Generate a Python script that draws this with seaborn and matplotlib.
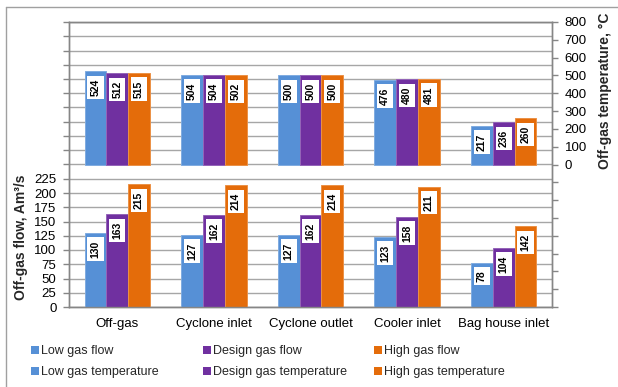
import matplotlib
matplotlib.use("Agg")
import matplotlib.pyplot as plt
import matplotlib.colors as mcolors
from matplotlib.patches import Patch
from matplotlib.lines import Line2D
from matplotlib.ticker import FuncFormatter, MultipleLocator, FixedLocator
import seaborn as sns
import pandas as pd

# ---- data ----
locations = ["Off-gas", "Cyclone inlet", "Cyclone outlet", "Cooler inlet", "Bag house inlet"]
cases = ["Low", "Design", "High"]
flow_low = [130, 127, 127, 123, 78]
flow_design = [163, 162, 162, 158, 104]
flow_high = [215, 214, 214, 211, 142]
temp_low = [524, 504, 500, 476, 217]
temp_design = [512, 504, 500, 480, 236]
temp_high = [515, 502, 500, 481, 260]

flow_df = pd.DataFrame({
    "location": locations * 3,
    "case": [c for c in cases for _ in locations],
    "value": flow_low + flow_design + flow_high,
})
temp_df = pd.DataFrame({
    "location": locations * 3,
    "case": [c for c in cases for _ in locations],
    "value": temp_low + temp_design + temp_high,
})

colors = ["#5690D6", "#7030A0", "#E46C0A"]
grid_c = "#A6A6A6"
spine_c = "#868686"

sns.set_style("white")
plt.rcParams["font.family"] = ["Liberation Sans", "DejaVu Sans"]

W, H = 618, 387
fig = plt.figure(figsize=(W / 100, H / 100), dpi=100)
ax = fig.add_axes([69 / W, 1 - 307 / H, (552 - 69) / W, (307 - 22) / H])
ax2 = ax.twinx()

sns.barplot(data=flow_df, x="location", y="value", hue="case", hue_order=cases,
            palette=colors, width=0.675, gap=0, ax=ax, legend=False,
            saturation=1, zorder=3)
sns.barplot(data=temp_df, x="location", y="value", hue="case", hue_order=cases,
            palette=colors, width=0.675, gap=0, ax=ax2, legend=False,
            saturation=1, zorder=3)


def style_bars(axis):
    for cont in axis.containers:
        for bar in cont:
            fc = mcolors.to_rgb(bar.get_facecolor())
            light = tuple(c + (1 - c) * 0.25 for c in fc)
            bar.set_edgecolor(light)
            bar.set_linewidth(0.7)
            h = bar.get_height()
            axis.annotate(f"{h:.0f}", xy=(bar.get_x() + bar.get_width() / 2, h),
                          xytext=(0, -5.5), textcoords="offset points",
                          rotation=90, ha="center", va="top",
                          fontsize=7.5, fontweight="bold", color="black",
                          bbox=dict(boxstyle="square,pad=0.3", fc="white", ec="none"),
                          zorder=5)


style_bars(ax)
style_bars(ax2)

# left axis: flow, labels only in the lower half
ax.set_ylim(0, 500)
ax.yaxis.set_major_locator(MultipleLocator(25))
ax.yaxis.set_major_formatter(FuncFormatter(lambda v, p: f"{v:.0f}" if v <= 225 + 1e-6 else ""))
ax.grid(axis="y", color=grid_c, linewidth=1, zorder=0)
ax.grid(axis="x", visible=False)
ax.set_axisbelow(True)

# right axis: temperature, labels only in the upper half
ax2.set_ylim(-800, 800)
ax2.yaxis.set_major_locator(MultipleLocator(100))
ax2.yaxis.set_major_formatter(FuncFormatter(lambda v, p: f"{v:.0f}" if v >= -1e-6 else ""))
ax2.grid(False)

ax.set_xlim(-0.5, len(locations) - 0.5)
ax2.set_xlim(-0.5, len(locations) - 0.5)
ax.set_xlabel("")
ax2.set_xlabel("")
ax.xaxis.set_minor_locator(FixedLocator([i - 0.5 for i in range(len(locations) + 1)]))
ax.tick_params(axis="x", which="major", length=0, pad=8, labelsize=9.5, colors="black")
ax.tick_params(axis="x", which="minor", length=4, width=1, color=spine_c, direction="out")
ax.tick_params(axis="y", length=4, width=1, color=spine_c, direction="out", pad=5,
               labelsize=9.5, labelcolor="black", left=True)
ax2.tick_params(axis="y", length=4, width=1, color=spine_c, direction="out", pad=5,
                labelsize=9.5, labelcolor="black", right=True)

for a in (ax, ax2):
    for s in a.spines.values():
        s.set_color(spine_c)
        s.set_linewidth(1)

ax.set_ylabel("Off-gas flow, Am³/s", fontsize=10, fontweight="bold")
ax.yaxis.set_label_coords(-0.085, 0.245)
ax2.set_ylabel("Off-gas temperature, °C", fontsize=10, fontweight="bold", rotation=90)
ax2.yaxis.set_label_coords(1.095, 0.76)

# legends: one column per case
labels = [("Low gas flow", "Low gas temperature"),
          ("Design gas flow", "Design gas temperature"),
          ("High gas flow", "High gas temperature")]
xs = [31, 203, 374]
for col, (lab, x) in zip(colors, zip(labels, xs)):
    handles = [Patch(facecolor=col, edgecolor="none", label=l) for l in lab]
    fig.legend(handles=handles, loc="upper left", bbox_to_anchor=(x / W, 1 - 345 / H),
               frameon=False, fontsize=9, handlelength=0.6, handleheight=0.6,
               handletextpad=0.2, labelspacing=0.75, borderaxespad=0, borderpad=0)

# chart frame
fig.add_artist(Line2D([6 / W, 6 / W], [0, 1 - 7 / H], color="#A0A0A0", lw=1,
                      transform=fig.transFigure))
fig.add_artist(Line2D([6 / W, 1], [1 - 7 / H, 1 - 7 / H], color="#A0A0A0", lw=1,
                      transform=fig.transFigure))

fig.savefig("out.png", dpi=100)
